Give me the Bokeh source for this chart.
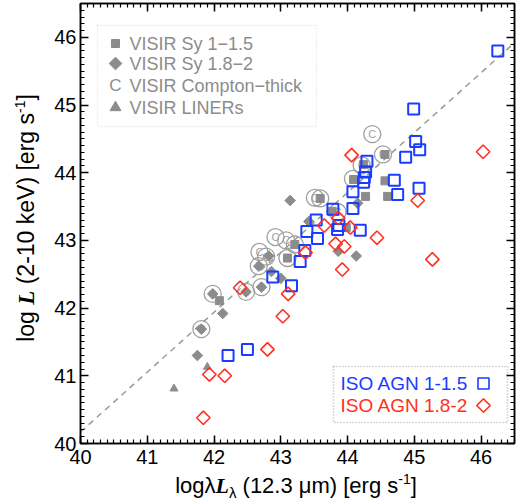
import numpy as np
from bokeh.plotting import figure
from bokeh.models import Range1d, LinearAxis, SingleIntervalTicker, Label, BoxAnnotation, Div
from bokeh.layouts import row, column
from bokeh.core.properties import value
from bokeh.embed import file_html
from bokeh.resources import INLINE

# ---------------- data ----------------
# ISO AGN type 1-1.5 (blue open squares)
iso1_x = [46.25, 44.99, 45.02, 45.08, 44.87, 44.29, 44.27, 44.25, 44.24, 44.70, 45.07, 44.75, 44.08, 44.08,
          43.78, 43.87, 43.85, 44.19, 43.53, 43.39, 43.55, 43.36, 43.29, 42.88, 43.16, 42.50, 42.21]
iso1_y = [45.80, 44.94, 44.46, 44.34, 44.23, 44.17, 44.01, 43.93, 43.86, 43.89, 43.77, 43.68, 43.72, 43.47,
          43.46, 43.22, 43.16, 43.15, 43.30, 43.13, 43.03, 42.85, 42.69, 42.46, 42.33, 41.39, 41.30]

# ISO AGN type 1.8-2 (red open diamonds)
iso2_x = [44.06, 46.03, 45.05, 43.86, 44.04, 43.65, 43.82, 43.95, 44.44, 45.27, 43.92, 43.37, 42.39, 43.11,
          43.03, 42.80, 41.93, 42.16, 41.84]
iso2_y = [44.26, 44.31, 43.59, 43.33, 43.19, 43.22, 42.95, 42.91, 43.04, 42.72, 42.57, 42.82, 42.30, 42.21,
          41.88, 41.39, 41.02, 41.00, 40.38]

# VISIR Sy 1-1.5 (grey filled squares)
vsy1_x = [44.56, 44.24, 44.09, 44.56, 44.27, 44.60, 43.59, 43.77, 43.21, 43.10, 42.08, 43.98]
vsy1_y = [44.27, 44.12, 43.90, 43.88, 43.65, 43.65, 43.62, 43.43, 42.94, 42.74, 42.11, 43.19]

# VISIR Sy 1.8-2 (grey filled diamonds)
vsy2_x = [43.14, 43.42, 43.86, 44.13, 42.82, 42.67, 42.86, 43.00, 42.71, 41.98, 42.48, 42.13, 41.81, 41.75, 44.15]
vsy2_y = [43.59, 43.28, 42.84, 42.77, 42.77, 42.62, 42.54, 42.44, 42.31, 42.21, 42.24, 41.92, 41.69, 41.30, 43.55]

# VISIR LINERs (grey triangles)
vlin_x = [41.40, 41.90]
vlin_y = [40.81, 41.13]

# VISIR Compton-thick (circled C)
vct_x = [44.37, 44.53, 44.21, 44.08, 43.85, 43.51, 43.59, 42.92, 43.08, 43.21, 43.10, 42.68, 42.78, 42.67,
         42.71, 42.48, 41.98, 41.81]
vct_y = [44.57, 44.27, 44.11, 43.91, 43.42, 43.63, 43.62, 43.05, 43.00, 42.94, 42.74, 42.83, 42.76, 42.62,
         42.31, 42.24, 42.21, 41.69]

# dashed correlation line
fit_slope = 0.8846
fit_intercept_at_40 = 40.17

legend_visir = ["VISIR Sy 1\u22121.5", "VISIR Sy 1.8\u22122", "VISIR Compton\u2212thick", "VISIR LINERs"]
legend_iso = ["ISO AGN 1-1.5", "ISO AGN 1.8-2"]

BLUE = "#1a3cff"
RED = "#ff3020"
GREY = "#8c8c8c"
LGREY = "#a0a0a0"

XMIN, XMAX, YMIN, YMAX = 40.0, 46.5, 40.0, 46.5

# ---------------- layout (page px) ----------------
W, H = 532, 504
YT_W = 40          # width of the y-title strip
XT_H = 30          # height of the x-title strip
FRAME_L, FRAME_R, FRAME_T, FRAME_B = 80, 514, 3, 443
PXU_X = (FRAME_R - FRAME_L) / (XMAX - XMIN)
PXU_Y = (FRAME_B - FRAME_T) / (YMAX - YMIN)


def dx(px):
    return XMIN + (px - FRAME_L) / PXU_X


def dy(py):
    return YMIN + (FRAME_B - py) / PXU_Y


PW, PH = W - YT_W, H - XT_H
p = figure(width=PW, height=PH, output_backend="svg", toolbar_location=None,
           x_range=Range1d(XMIN, XMAX), y_range=Range1d(YMIN, YMAX),
           min_border_left=FRAME_L - YT_W, min_border_right=W - FRAME_R,
           min_border_top=FRAME_T, min_border_bottom=PH - FRAME_B, margin=0)
p.xgrid.visible = False
p.ygrid.visible = False
p.outline_line_color = "black"
p.outline_line_width = 1.5
p.background_fill_color = "white"
p.border_fill_color = "white"

ticker = SingleIntervalTicker(interval=1, num_minor_ticks=10)


def style_axis(ax, labels=True):
    ax.ticker = ticker
    ax.axis_line_color = "black"
    ax.axis_line_width = 1.5
    ax.major_tick_in = 8
    ax.major_tick_out = 0
    ax.minor_tick_in = 4
    ax.minor_tick_out = 0
    ax.major_tick_line_width = 1.5
    ax.minor_tick_line_width = 1.2
    ax.major_tick_line_color = "black"
    ax.minor_tick_line_color = "black"
    if labels:
        ax.major_label_text_font = "Liberation Sans"
        ax.major_label_text_font_size = "20px"
        ax.major_label_text_color = "black"
    else:
        ax.major_label_text_font_size = "1px"
        ax.major_label_text_color = None
        ax.major_label_standoff = 0


style_axis(p.xaxis[0])
style_axis(p.yaxis[0])
p.xaxis[0].major_label_standoff = 6
p.yaxis[0].major_label_standoff = 4
right_ax = LinearAxis()
top_ax = LinearAxis()
style_axis(right_ax, labels=False)
style_axis(top_ax, labels=False)
p.add_layout(right_ax, "right")
p.add_layout(top_ax, "above")

# dashed line
lx = [XMIN, XMAX]
ly = [fit_intercept_at_40 + fit_slope * (v - 40.0) for v in lx]
p.line(lx, ly, line_color="#999999", line_width=1.5, line_dash="6 5")

# Compton-thick circles with C
p.scatter(vct_x, vct_y, marker="circle", size=17, fill_color=None, line_color=LGREY, line_width=1.3)
p.text(x=vct_x, y=vct_y, text=["C"] * len(vct_x), text_align="center", text_baseline="middle",
       text_font=value("Liberation Sans"), text_font_size="11px", text_color=LGREY)

# VISIR
p.scatter(vsy1_x, vsy1_y, marker="square", size=8, fill_color=GREY, line_color=GREY)
p.scatter(vsy2_x, vsy2_y, marker="square", angle=np.pi / 4, size=7.5, fill_color=GREY, line_color=GREY)
p.scatter(vlin_x, vlin_y, marker="triangle", size=8, fill_color=GREY, line_color=GREY)

# ISO
p.scatter(iso1_x, iso1_y, marker="square", size=11, fill_color=None, line_color=BLUE, line_width=2)
p.scatter(iso2_x, iso2_y, marker="square", angle=np.pi / 4, size=9.5, fill_color=None, line_color=RED,
          line_width=1.6)

# ---------------- legends ----------------
p.add_layout(BoxAnnotation(left=dx(97), right=dx(316), top=dy(25), bottom=dy(126),
                           fill_color=None, line_color="#999999", line_width=1.3, line_dash="1 2"))
vis_rows = [dy(43), dy(63), dy(85), dy(107)]
for yy, tt in zip(vis_rows, legend_visir):
    p.add_layout(Label(x=dx(129), y=yy, text=tt, text_font="Liberation Sans", text_font_size="18px",
                       text_color=GREY, text_baseline="middle", text_align="left"))
p.scatter([dx(115)], [vis_rows[0]], marker="square", size=8, fill_color=GREY, line_color=GREY)
p.scatter([dx(115)], [vis_rows[1]], marker="square", angle=np.pi / 4, size=9, fill_color=GREY, line_color=GREY)
p.add_layout(Label(x=dx(115), y=vis_rows[2], text="C", text_font="Liberation Sans", text_font_size="17px",
                   text_color=GREY, text_baseline="middle", text_align="center"))
p.scatter([dx(115)], [vis_rows[3]], marker="triangle", size=11, fill_color=GREY, line_color=GREY)

p.add_layout(BoxAnnotation(left=dx(333), right=dx(507), top=dy(366), bottom=dy(422),
                           fill_color=None, line_color="black", line_width=1.6, line_dash="1 2"))
iso_rows = [dy(383), dy(405)]
p.add_layout(Label(x=dx(340), y=iso_rows[0], text=legend_iso[0], text_font="Liberation Sans",
                   text_font_size="19px", text_color=BLUE, text_baseline="middle"))
p.add_layout(Label(x=dx(340), y=iso_rows[1], text=legend_iso[1], text_font="Liberation Sans",
                   text_font_size="19px", text_color=RED, text_baseline="middle"))
p.scatter([dx(483)], [iso_rows[0]], marker="square", size=11, fill_color=None, line_color=BLUE, line_width=1.6)
p.scatter([dx(483)], [iso_rows[1]], marker="square", angle=np.pi / 4, size=9.5, fill_color=None,
          line_color=RED, line_width=1.6)

# ---------------- axis titles (rich text) ----------------
L_BI = "<b><i style=\"font-family:'Liberation Serif'\">L</i></b>"
SUP = "<span style=\"position:relative; top:-9px; font-size:14px\">-1</span>"
SUB_LAM = "<span style=\"position:relative; top:5px; font-size:15px\">\u03bb</span>"

x_title_html = ("<div style=\"width:%dpx; height:%dpx; box-sizing:border-box; padding-left:20px; "
                "text-align:center; white-space:nowrap; font-family:'Liberation Sans'; font-size:22px; "
                "line-height:24px; color:black;\">log\u03bb%s%s (12.3 \u03bcm) [erg s%s]</div>"
                % (PW, XT_H, L_BI, SUB_LAM, SUP))
y_title_html = ("<div style=\"width:440px; height:%dpx; box-sizing:border-box; padding-top:6px; "
                "text-align:center; white-space:nowrap; font-family:'Liberation Sans'; font-size:23px; "
                "line-height:40px; color:black; transform-origin:0 0; "
                "transform:translate(0px, 438px) rotate(-90deg);\">log %s (2-10 keV) [erg s%s]</div>"
                % (YT_W, L_BI, SUP))

x_title = Div(text=x_title_html, width=PW, height=XT_H, margin=0)
y_title = Div(text=y_title_html, width=YT_W, height=H, margin=0)

layout = row(y_title, column(p, x_title, spacing=0, margin=0), spacing=0, margin=0)

open("out.html", "w").write(file_html(layout, INLINE))
